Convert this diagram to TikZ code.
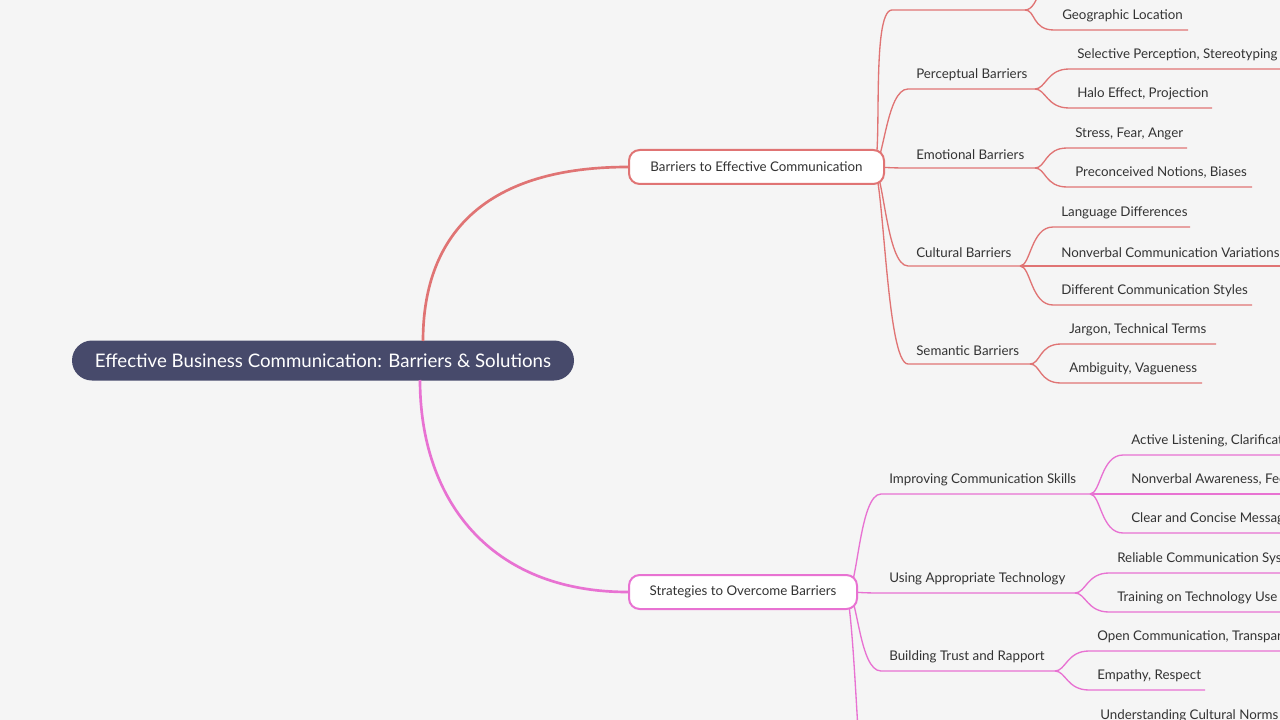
\documentclass[tikz,border=0pt]{standalone}
\usepackage{fontspec}
\setmainfont{Lato}
\definecolor{bg}{HTML}{F5F5F5}
\definecolor{rootc}{HTML}{474A6B}
\definecolor{redc}{HTML}{E07474}
\definecolor{pinkc}{HTML}{E872D2}
\definecolor{txt}{HTML}{333333}
\tikzset{lbl/.style={anchor=south west,inner sep=0pt,font=\fontsize{10}{12}\selectfont,text=txt},
 lnk/.style={line width=1pt}}
% #1 parent coord, #2 y, #3 text x, #4 end x, #5 text, #6 colour, #7 name
\newcommand\mmbranch[7]{%
 \coordinate (#7s) at (#3-8,#2);
 \coordinate (#7e) at (#4,#2);
 \node[lbl] (#7) at (#3,#2-8) {#5};
 \draw[lnk,#6] (#1) .. controls ([xshift=8]#1) and (#3-30,#2) .. (#7s) -- (#7e);}
\begin{document}
\begin{tikzpicture}[x=0.75pt,y=-0.75pt]
\fill[bg] (0,0) rectangle (1280,720);
\useasboundingbox (0,0) rectangle (1280,720);
\clip (0,0) rectangle (1280,720);
\node[fill=rootc,rounded corners=15pt,minimum width=502*0.75pt,minimum height=40*0.75pt,text=white,font=\fontsize{14}{16}\selectfont,inner sep=0pt] (root) at (323,360.5) {Effective Business Communication: Barriers \& Solutions};
\coordinate (b0) at (873,167);
\coordinate (s0) at (847,592);
% barriers subtopics
\mmbranch{b0}{10}{900}{1025}{}{redc}{sa}
\mmbranch{b0}{89}{916}{1035}{Perceptual Barriers}{redc}{sb}
\mmbranch{b0}{168}{916}{1035}{Emotional Barriers}{redc}{sc}
\mmbranch{b0}{266}{916}{1020}{Cultural Barriers}{redc}{sd}
\mmbranch{b0}{364}{916}{1030}{Semantic Barriers}{redc}{se}
\draw[lnk,redc] (sae) .. controls (1040,10) and (1040,-30) .. (1060,-30);
\mmbranch{sae}{30}{1062}{1188}{Geographic Location}{redc}{ca}
\mmbranch{sbe}{69}{1077}{1290}{Selective Perception, Stereotyping}{redc}{cb}
\mmbranch{sbe}{108}{1077}{1212}{Halo Effect, Projection}{redc}{cc}
\mmbranch{sce}{148}{1075}{1187}{Stress, Fear, Anger}{redc}{cd}
\mmbranch{sce}{187}{1075}{1252}{Preconceived Notions, Biases}{redc}{ce}
\mmbranch{sde}{227}{1061}{1190}{Language Differences}{redc}{cf}
\mmbranch{sde}{266}{1061}{1290}{Nonverbal Communication Variations}{redc}{cg}
\mmbranch{sde}{305}{1061}{1252}{Different Communication Styles}{redc}{ch}
\mmbranch{see}{344}{1069}{1216}{Jargon, Technical Terms}{redc}{ci}
\mmbranch{see}{383}{1069}{1202}{Ambiguity, Vagueness}{redc}{cj}
% strategies subtopics
\mmbranch{s0}{494}{889}{1090}{Improving Communication Skills}{pinkc}{ta}
\mmbranch{s0}{593}{889}{1075}{Using Appropriate Technology}{pinkc}{tb}
\mmbranch{s0}{671}{889}{1055}{Building Trust and Rapport}{pinkc}{tc}
\draw[lnk,pinkc] (s0) .. controls (852,620) and (855,680) .. (858,730);
\mmbranch{tae}{455}{1131}{1290}{Active Listening, Clarification}{pinkc}{da}
\mmbranch{tae}{494}{1131}{1290}{Nonverbal Awareness, Feedback}{pinkc}{db}
\mmbranch{tae}{533}{1131}{1290}{Clear and Concise Messaging}{pinkc}{dc}
\mmbranch{tbe}{573}{1117}{1290}{Reliable Communication Systems}{pinkc}{dd}
\mmbranch{tbe}{612}{1117}{1290}{Training on Technology Use}{pinkc}{de}
\mmbranch{tce}{651}{1097}{1290}{Open Communication, Transparency}{pinkc}{df}
\mmbranch{tce}{690}{1097}{1205}{Empathy, Respect}{pinkc}{dg}
\node[lbl] (dh) at (1100,722) {Understanding Cultural Norms};
% main nodes drawn on top
\node[draw=redc,line width=1.5pt,fill=white,rounded corners=8pt,minimum width=255*0.75pt,minimum height=34*0.75pt,font=\fontsize{10}{12}\selectfont,text=txt,inner sep=0pt] (bar) at (756.5,167) {Barriers to Effective Communication};
\node[draw=pinkc,line width=1.5pt,fill=white,rounded corners=8pt,minimum width=228*0.75pt,minimum height=34*0.75pt,font=\fontsize{10}{12}\selectfont,text=txt,inner sep=0pt] (str) at (743,592) {Strategies to Overcome Barriers};
\draw[redc,line width=2pt] (423,341) .. controls (423,230) and (490,167) .. (bar.west);
\draw[pinkc,line width=2pt] (420,380) .. controls (420,500) and (490,592) .. (str.west);
\end{tikzpicture}
\end{document}
